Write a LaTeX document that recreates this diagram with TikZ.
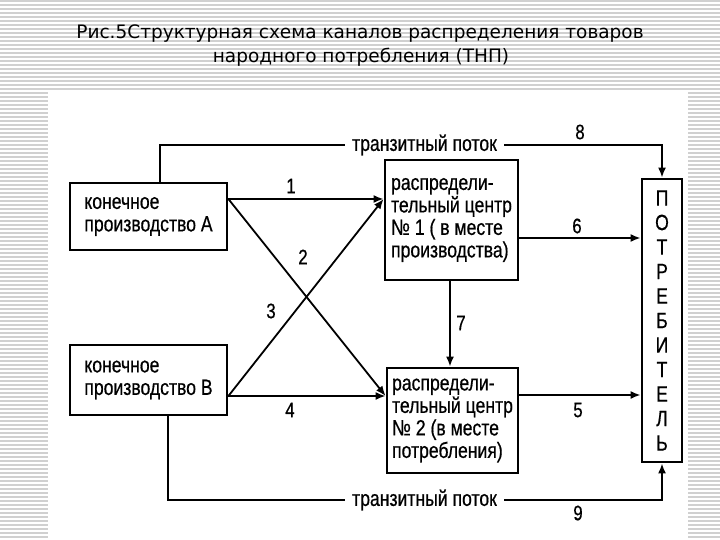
\documentclass[tikz,border=0pt]{standalone}
\usepackage{fontspec}
\usetikzlibrary{arrows.meta}
\newfontfamily\titlefont{DejaVu Sans}
\newfontfamily\schemefont[FakeStretch=0.8,FakeBold=0.6]{Liberation Sans}
\definecolor{stripegray}{RGB}{208,208,208}

\begin{document}
\begin{tikzpicture}[x=1pt,y=-1pt,
  unit/.style={draw,line width=2.8pt,inner sep=0pt,align=left,
    font=\schemefont\fontsize{22}{22.5}\selectfont},
  flow/.style={line width=1.8pt},
  feed/.style={flow,-{Latex[length=10pt,width=8pt]}},
  num/.style={font=\schemefont\fontsize{21}{21}\selectfont,inner sep=1pt},
  caption/.style={font=\schemefont\fontsize{22}{22}\selectfont,inner xsep=7pt,inner ysep=1pt}]
  \useasboundingbox (0,0) rectangle (720,540);
  % slide background
  \foreach \y in {1,5,...,539} {
    \draw[stripegray,line width=1.2pt] (0,\y) -- (720,\y);
  }
  \fill[white] (48,91) rectangle (688,540);
  \node[font=\titlefont\fontsize{18.5}{24}\selectfont,anchor=base] (title1) at (360,38.5)
    {Рис.5Структурная схема каналов распределения товаров};
  \node[font=\titlefont\fontsize{18.5}{24}\selectfont,anchor=base] (title2) at (361,63)
    {народного потребления (ТНП)};

  % boxes
  \node[unit,minimum width=157pt,minimum height=67pt]
    (prodA) at (148.5,216.5) {конечное\\производство А};
  \node[unit,minimum width=157pt,minimum height=70pt]
    (prodB) at (148.5,380) {конечное\\производство В};
  \node[unit,minimum width=133pt,minimum height=120pt]
    (dcOne) at (451.5,220) {распредели-\\тельный центр\\№ 1 ( в месте\\производства)};
  \node[unit,minimum width=131pt,minimum height=105pt]
    (dcTwo) at (452.5,420.5) {распредели-\\тельный центр\\№ 2 (в месте\\потребления)};
  \node[unit,minimum width=40pt,minimum height=283pt,align=center,
    font=\schemefont\fontsize{22}{24.5}\selectfont]
    (consumer) at (662,320.5) {П\\О\\Т\\Р\\Е\\Б\\И\\Т\\Е\\Л\\Ь};

  \node[caption] (transitTop) at (424.5,145) {транзитный поток};
  \node[caption] (transitBot) at (424.5,500) {транзитный поток};

  \coordinate (aOut) at ([yshift=17.5pt]prodA.east);
  \coordinate (bOut) at ([yshift=-16pt]prodB.east);
  \coordinate (oneIn) at ([yshift=21pt]dcOne.west);
  \coordinate (twoIn) at ([yshift=24.5pt]dcTwo.west);

  % flows
  \draw[feed] (aOut) -- (oneIn);
  \draw[feed] (aOut) -- (twoIn);
  \draw[feed] (bOut) -- (oneIn);
  \draw[feed] (bOut) -- (twoIn);
  \draw[feed] ([yshift=-18pt]dcOne.east) -- ([yshift=-18pt]dcOne.east -| consumer.west);
  \draw[feed] ([yshift=25.5pt]dcTwo.east) -- ([yshift=25.5pt]dcTwo.east -| consumer.west);
  \draw[feed] ([xshift=-1.5pt]dcOne.south) -- ([xshift=-1.5pt]dcOne.south |- dcTwo.north);
  \draw[flow] ([xshift=11.5pt]prodA.north) |- (transitTop.west);
  \draw[feed] (transitTop.east) -| (consumer.north);
  \draw[flow] ([xshift=19.5pt]prodB.south) |- (transitBot.west);
  \draw[feed] (transitBot.east) -| (consumer.south);

  % labels
  \node[num] (n1) at (291,186) {1};
  \node[num] (n2) at (303,257) {2};
  \node[num] (n3) at (271,311) {3};
  \node[num] (n4) at (290,410) {4};
  \node[num] (n5) at (578,410) {5};
  \node[num] (n6) at (577,226) {6};
  \node[num] (n7) at (461,323) {7};
  \node[num] (n8) at (580,132) {8};
  \node[num] (n9) at (578,513) {9};
\end{tikzpicture}
\end{document}
